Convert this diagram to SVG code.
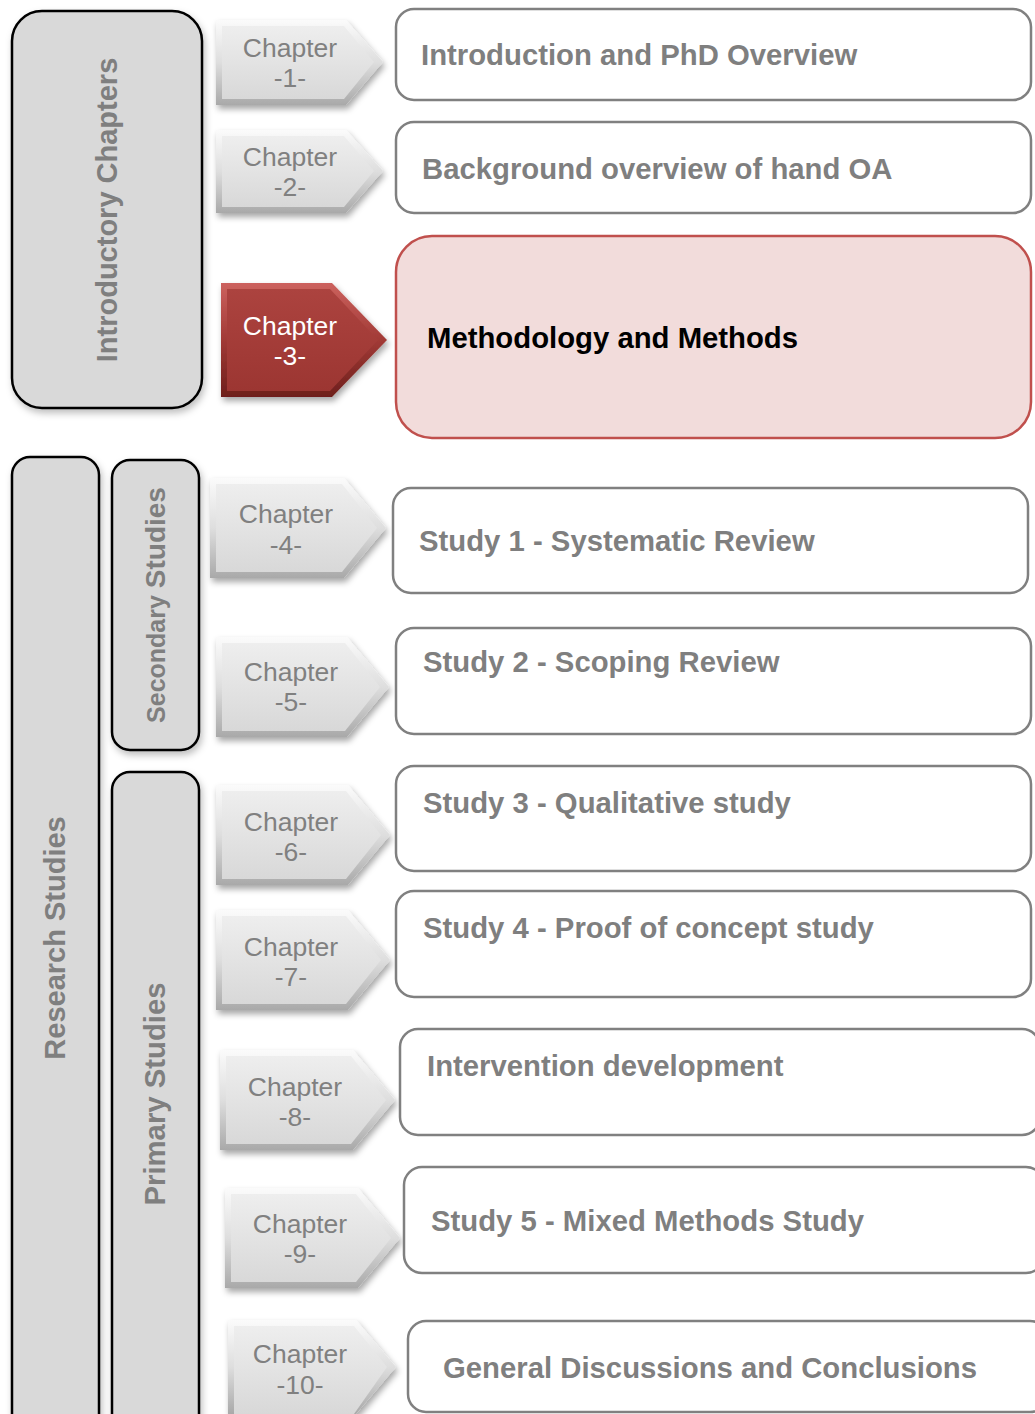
<svg xmlns="http://www.w3.org/2000/svg" width="1035" height="1414" viewBox="0 0 1035 1414">
  <defs>
    <linearGradient id="bevelGray" x1="0" y1="0" x2="0" y2="1">
      <stop offset="0" stop-color="#fbfbfb"/>
      <stop offset="0.5" stop-color="#dedede"/>
      <stop offset="1" stop-color="#a9a9a9"/>
    </linearGradient>
    <linearGradient id="faceGray" x1="0" y1="0" x2="0" y2="1">
      <stop offset="0" stop-color="#eeeeee"/>
      <stop offset="1" stop-color="#d8d8d8"/>
    </linearGradient>
    <linearGradient id="bevelRed" x1="0" y1="0" x2="0" y2="1">
      <stop offset="0" stop-color="#cc625e"/>
      <stop offset="0.5" stop-color="#a13a36"/>
      <stop offset="1" stop-color="#6e1f1c"/>
    </linearGradient>
    <linearGradient id="faceRed" x1="0" y1="0" x2="0" y2="1">
      <stop offset="0" stop-color="#ac433f"/>
      <stop offset="1" stop-color="#9c3632"/>
    </linearGradient>
    <filter id="shadow" x="-10%" y="-10%" width="125%" height="130%">
      <feDropShadow dx="2" dy="4" stdDeviation="3" flood-color="#000" flood-opacity="0.35"/>
    </filter>
    <filter id="panelShadow" x="-10%" y="-5%" width="130%" height="115%">
      <feDropShadow dx="2" dy="4" stdDeviation="3.5" flood-color="#000" flood-opacity="0.25"/>
    </filter>
  </defs>
  <style>
    .panel { fill: #d9d9d9; stroke: #000; stroke-width: 2.5; filter: url(#panelShadow); }
    .panelText { font-family: "Liberation Sans", Arial, sans-serif; font-weight: bold; fill: #7f7f7f; text-anchor: middle; }
    .chapOuter { fill: url(#bevelGray); filter: url(#shadow); }
    .chapFace { fill: url(#faceGray); }
    .chapOuterRed { fill: url(#bevelRed); filter: url(#shadow); }
    .chapFaceRed { fill: url(#faceRed); }
    .chapText { font-family: "Liberation Sans", Arial, sans-serif; font-size: 26.5px; fill: #808080; text-anchor: middle; }
    .chapTextRed { font-family: "Liberation Sans", Arial, sans-serif; font-size: 26.5px; fill: #ffffff; text-anchor: middle; }
    .box { fill: #ffffff; stroke: #808080; stroke-width: 2.5; }
    .boxHi { fill: #f2dcdb; stroke: #c0504d; stroke-width: 2.5; }
    .boxText { font-family: "Liberation Sans", Arial, sans-serif; font-size: 29.3px; font-weight: bold; fill: #7f7f7f; }
    .boxTextHi { font-family: "Liberation Sans", Arial, sans-serif; font-size: 29.3px; font-weight: bold; fill: #000000; }
  </style>

  <rect width="1035" height="1414" fill="#ffffff"/>

  <!-- grouping panels on the left -->
  <g id="panel-introductory">
    <rect class="panel" x="12" y="11" width="190" height="397" rx="30"/>
    <text class="panelText" font-size="29" transform="translate(117,210) rotate(-90)">Introductory Chapters</text>
  </g>
  <g id="panel-research">
    <rect class="panel" x="12" y="457" width="87" height="980" rx="18"/>
    <text class="panelText" font-size="29" transform="translate(65,938) rotate(-90)">Research Studies</text>
  </g>
  <g id="panel-secondary">
    <rect class="panel" x="112" y="460" width="87" height="290" rx="18"/>
    <text class="panelText" transform="translate(165,605) rotate(-90)"><tspan font-size="25">Secondary </tspan><tspan font-size="28">Studies</tspan></text>
  </g>
  <g id="panel-primary">
    <rect class="panel" x="112" y="772" width="87" height="665" rx="18"/>
    <text class="panelText" font-size="29.3" transform="translate(165,1094) rotate(-90)">Primary Studies</text>
  </g>

  <!-- chapter markers -->
  <g id="chapter-1">
    <polygon class="chapOuter" points="216,20 346,20 383,62 346,105 216,105"/>
    <polygon class="chapFace" points="222,26 344,26 374,62 344,99 222,99"/>
    <text class="chapText" x="290" y="57">Chapter</text>
    <text class="chapText" x="290" y="87">-1-</text>
  </g>
  <g id="chapter-2">
    <polygon class="chapOuter" points="216,130 346,130 383,171 346,213 216,213"/>
    <polygon class="chapFace" points="222,136 344,136 374,171 344,207 222,207"/>
    <text class="chapText" x="290" y="166">Chapter</text>
    <text class="chapText" x="290" y="196">-2-</text>
  </g>
  <g id="chapter-3">
    <polygon class="chapOuterRed" points="221,283 332,283 387,340 332,397 221,397"/>
    <polygon class="chapFaceRed" points="227,289 330,289 378,340 330,391 227,391"/>
    <text class="chapTextRed" x="290" y="335">Chapter</text>
    <text class="chapTextRed" x="290" y="365">-3-</text>
  </g>
  <g id="chapter-4">
    <polygon class="chapOuter" points="210,478 344,478 386,528 344,578 210,578"/>
    <polygon class="chapFace" points="216,484 342,484 377,528 342,572 216,572"/>
    <text class="chapText" x="286" y="523">Chapter</text>
    <text class="chapText" x="286" y="554">-4-</text>
  </g>
  <g id="chapter-5">
    <polygon class="chapOuter" points="216,637 347,637 389,687 347,737 216,737"/>
    <polygon class="chapFace" points="222,643 345,643 380,687 345,731 222,731"/>
    <text class="chapText" x="291" y="681" font-size="22.2">Chapter</text>
    <text class="chapText" x="291" y="711" font-size="22.2">-5-</text>
  </g>
  <g id="chapter-6">
    <polygon class="chapOuter" points="216,785 348,785 390,835 348,885 216,885"/>
    <polygon class="chapFace" points="222,791 346,791 381,835 346,879 222,879"/>
    <text class="chapText" x="291" y="831">Chapter</text>
    <text class="chapText" x="291" y="861">-6-</text>
  </g>
  <g id="chapter-7">
    <polygon class="chapOuter" points="216,910 348,910 390,960 348,1010 216,1010"/>
    <polygon class="chapFace" points="222,916 346,916 381,960 346,1004 222,1004"/>
    <text class="chapText" x="291" y="956">Chapter</text>
    <text class="chapText" x="291" y="986">-7-</text>
  </g>
  <g id="chapter-8">
    <polygon class="chapOuter" points="220,1050 353,1050 395,1100 353,1150 220,1150"/>
    <polygon class="chapFace" points="226,1056 351,1056 386,1100 351,1144 226,1144"/>
    <text class="chapText" x="295" y="1096">Chapter</text>
    <text class="chapText" x="295" y="1126">-8-</text>
  </g>
  <g id="chapter-9">
    <polygon class="chapOuter" points="225,1188 358,1188 400,1238 358,1288 225,1288"/>
    <polygon class="chapFace" points="231,1194 356,1194 391,1238 356,1282 231,1282"/>
    <text class="chapText" x="300" y="1233">Chapter</text>
    <text class="chapText" x="300" y="1263">-9-</text>
  </g>
  <g id="chapter-10">
    <polygon class="chapOuter" points="228,1320 356,1320 396,1367 356,1414 228,1414"/>
    <polygon class="chapFace" points="234,1326 354,1326 387,1367 354,1414 234,1414"/>
    <text class="chapText" x="300" y="1363">Chapter</text>
    <text class="chapText" x="300" y="1394">-10-</text>
  </g>

  <!-- chapter titles -->
  <g id="title-1">
    <rect class="box" x="396" y="9" width="635" height="91" rx="18"/>
    <text class="boxText" x="421" y="65">Introduction and PhD Overview</text>
  </g>
  <g id="title-2">
    <rect class="box" x="396" y="122" width="635" height="91" rx="18"/>
    <text class="boxText" x="422" y="179">Background overview of hand OA</text>
  </g>
  <g id="title-3">
    <rect class="boxHi" x="396" y="236" width="635" height="202" rx="36"/>
    <text class="boxTextHi" x="427" y="348">Methodology and Methods</text>
  </g>
  <g id="title-4">
    <rect class="box" x="393" y="488" width="635" height="105" rx="18"/>
    <text class="boxText" x="419" y="551">Study 1 - Systematic Review</text>
  </g>
  <g id="title-5">
    <rect class="box" x="396" y="628" width="635" height="106" rx="18"/>
    <text class="boxText" x="423" y="672">Study 2 - Scoping Review</text>
  </g>
  <g id="title-6">
    <rect class="box" x="396" y="766" width="635" height="105" rx="18"/>
    <text class="boxText" x="423" y="813">Study 3 - Qualitative study</text>
  </g>
  <g id="title-7">
    <rect class="box" x="396" y="891" width="635" height="106" rx="18"/>
    <text class="boxText" x="423" y="938">Study 4 - Proof of concept study</text>
  </g>
  <g id="title-8">
    <rect class="box" x="400" y="1029" width="640" height="106" rx="18"/>
    <text class="boxText" x="427" y="1076">Intervention development</text>
  </g>
  <g id="title-9">
    <rect class="box" x="404" y="1167" width="640" height="106" rx="18"/>
    <text class="boxText" x="431" y="1231">Study 5 - Mixed Methods Study</text>
  </g>
  <g id="title-10">
    <rect class="box" x="408" y="1321" width="640" height="91" rx="18"/>
    <text class="boxText" x="443" y="1378">General Discussions and Conclusions</text>
  </g>
</svg>
